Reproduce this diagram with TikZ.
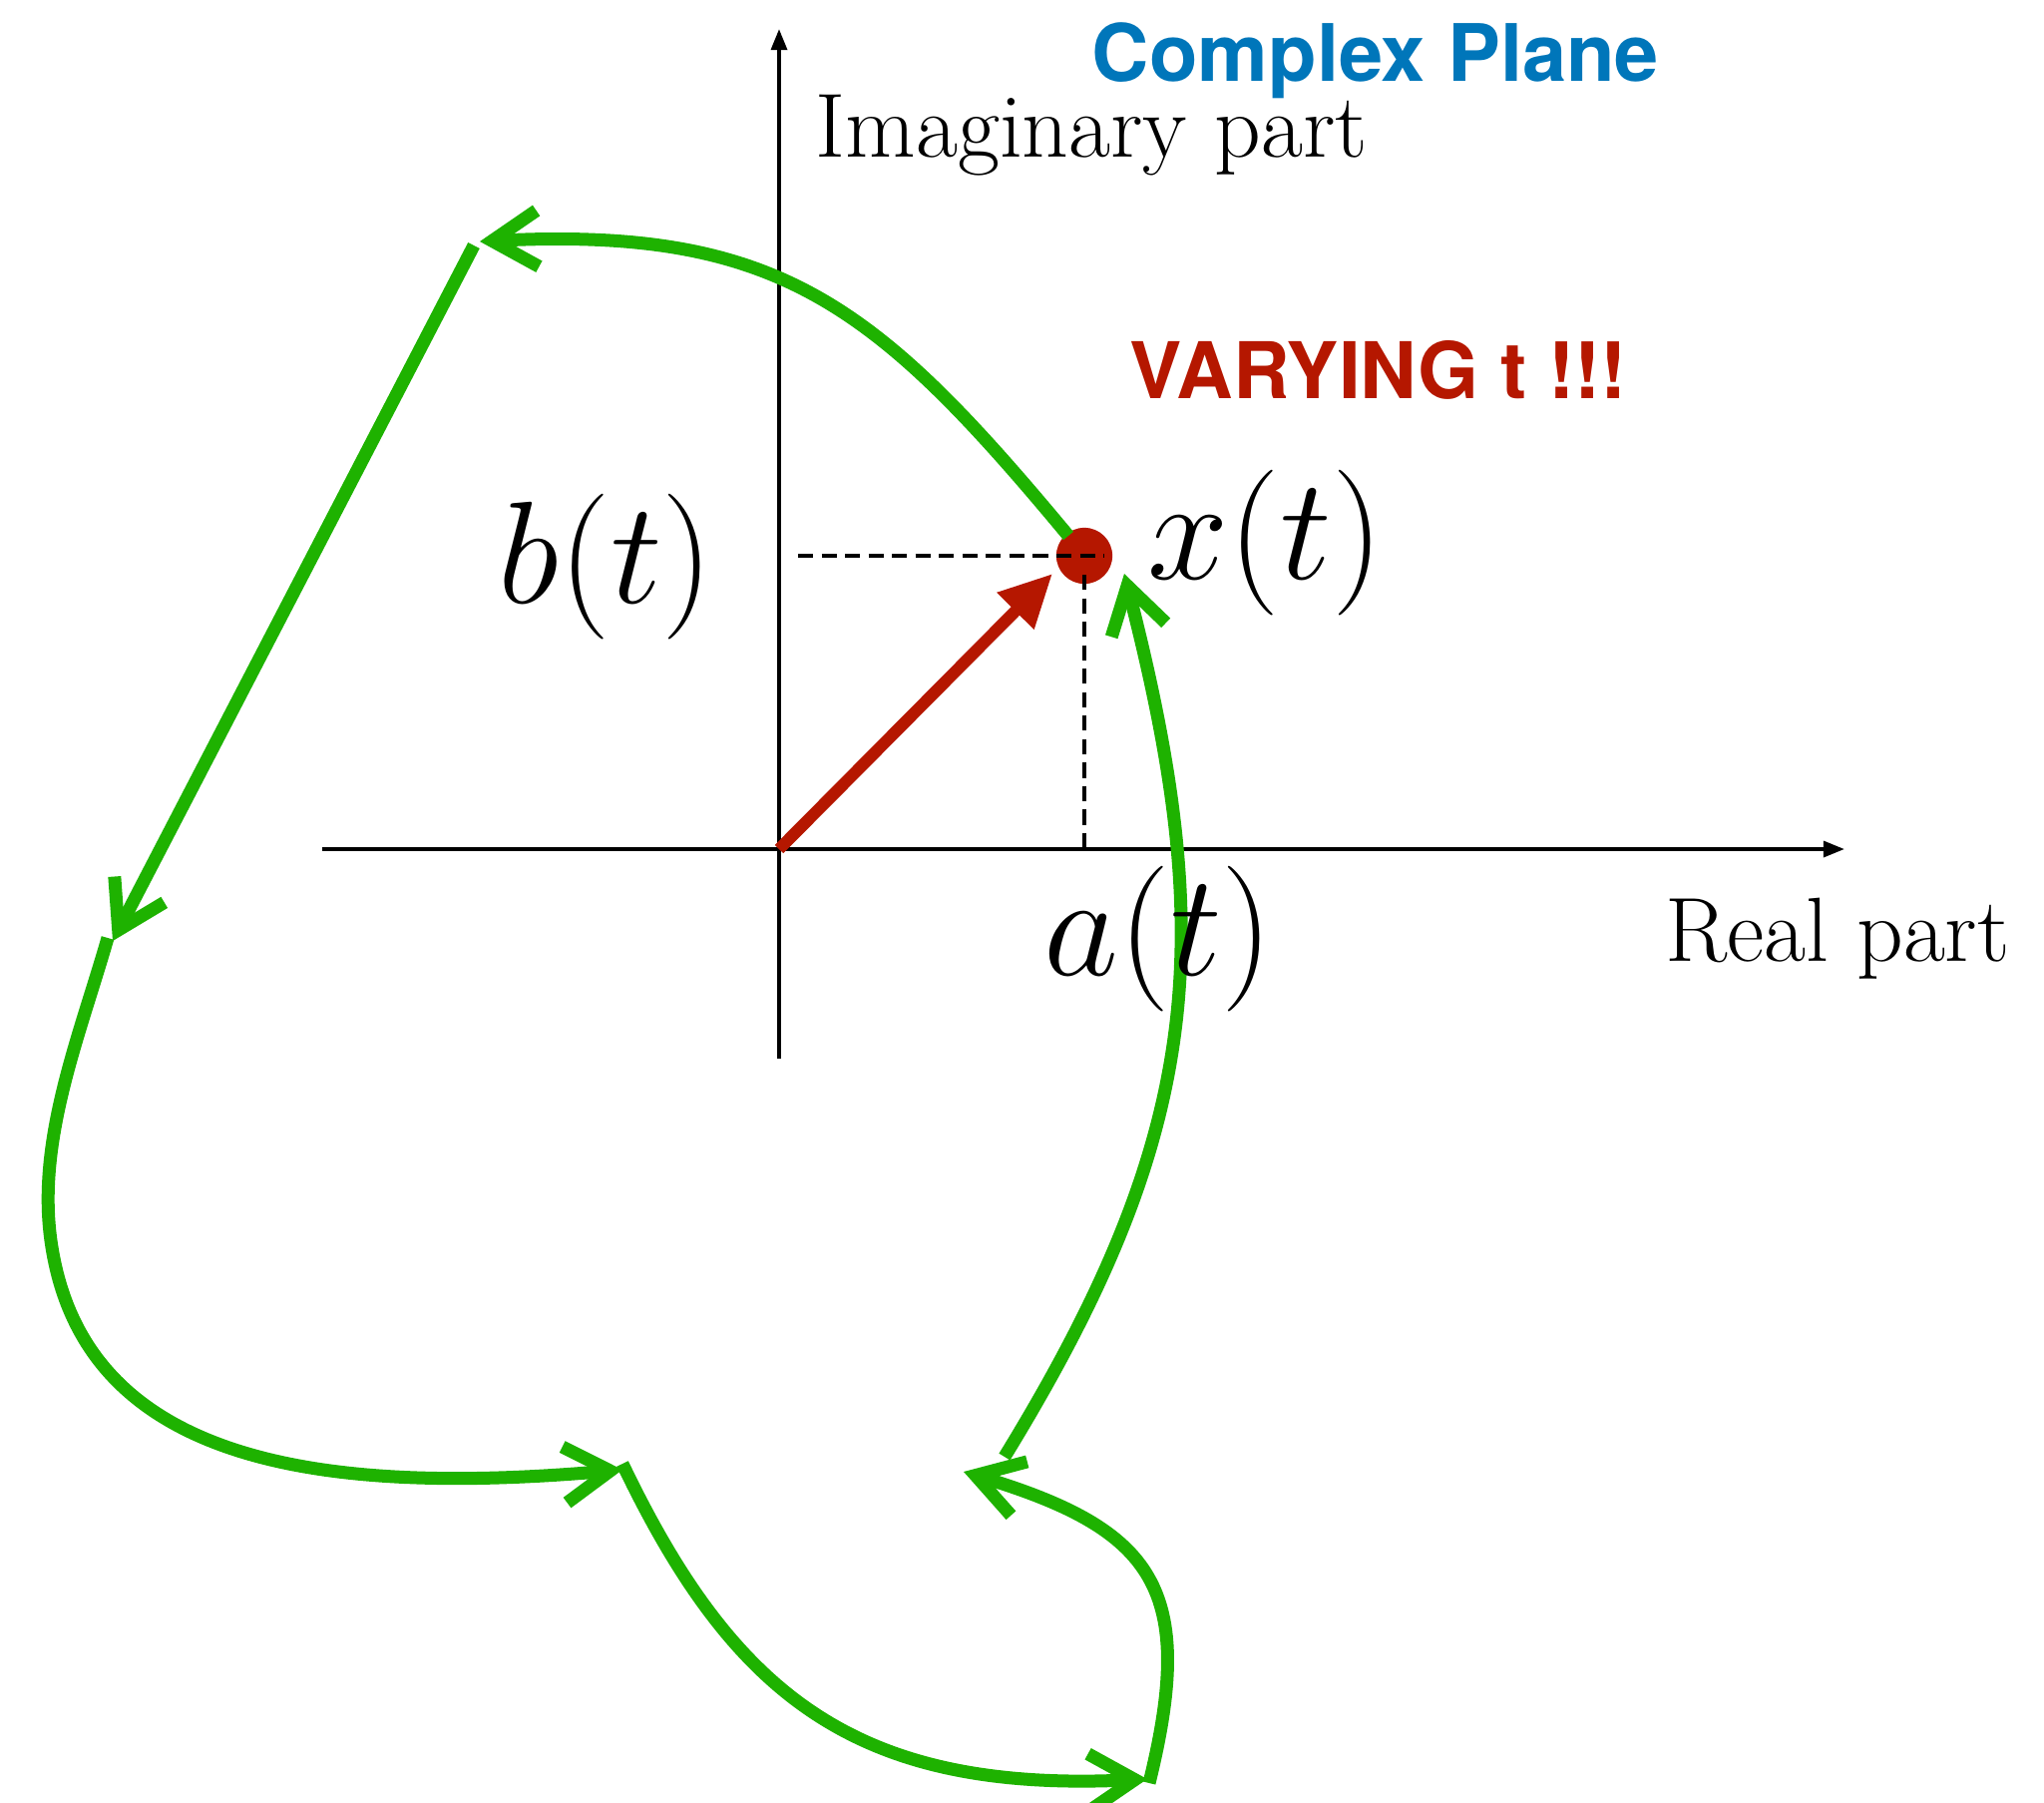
\documentclass[tikz,border=0pt]{standalone}
\usepackage{fontspec}
\newfontfamily\heros{TeX Gyre Heros}
\usetikzlibrary{arrows.meta}
\definecolor{cgreen}{RGB}{30,178,0}
\definecolor{cred}{RGB}{181,23,0}
\definecolor{cblue}{RGB}{0,118,186}
\newcommand{\bigmath}[1]{\scalebox{1.668}{\fontsize{24.88}{30}\selectfont$#1$}}
\begin{document}
\begin{tikzpicture}[x=0.1mm,y=-0.1mm,
  axis/.style={line width=1.1pt,-{Triangle[length=6pt,width=4.5pt]}},
  garrow/.style={cgreen,line width=3.7pt,-{Straight Barb[length=13pt,width=16pt]}},
  redarrow/.style={cred,line width=3.4pt,-{Triangle[length=15pt,width=14pt]}},
  dashline/.style={line width=1.3pt,dash pattern=on 4.3pt off 2.4pt},
  lbl/.style={anchor=base west,inner sep=0pt,font=\fontsize{26}{31}\selectfont},
  mlbl/.style={anchor=base west,inner sep=0pt},
  sanslbl/.style={anchor=base west,inner sep=0pt}]
\useasboundingbox (0,0) rectangle (2049,1807);
% axes
\coordinate (O) at (781,851);
\coordinate (xs) at (323,851);
\coordinate (xe) at (1849,851);
\coordinate (ys) at (781,1061);
\coordinate (ye) at (781,29);
\draw[axis] (xs) -- (xe);
\draw[axis] (ys) -- (ye);
% point
\node[circle,fill=cred,inner sep=0pt,minimum size=16pt] (X) at (1087,557) {};
\coordinate (hb) at (800,557);
\coordinate (he) at (1107,557);
\coordinate (vb) at (1087,576);
\coordinate (ve) at (1087,851);
\draw[dashline] (hb) -- (he);
\draw[dashline] (vb) -- (ve);
% red vector
\coordinate (rtip) at (1055,575);
\draw[redarrow] (O) -- (rtip);
% green loop
\coordinate (a0) at (1071,537);
\coordinate (a1) at (481,242);
\coordinate (b0) at (475,246);
\coordinate (b1) at (113,943);
\coordinate (c0) at (108,940);
\coordinate (cm) at (52,1250);
\coordinate (c1) at (624,1473);
\coordinate (d0) at (624,1467);
\coordinate (d1) at (1150,1783);
\coordinate (e0) at (1152,1787);
\coordinate (e1) at (966,1475);
\coordinate (f0) at (1007,1460);
\coordinate (f1) at (1127,575);
\draw[garrow] (a0) .. controls +(-192,-231) and +(300,-15) .. (a1);
\draw[garrow] (b0) -- (b1);
\draw[garrow] (c0) .. controls +(-29,101) and +(-17,-104) .. (cm)
                   .. controls +(35,218) and +(-300,26) .. (c1);
\draw[garrow] (d0) .. controls +(112,234) and +(-290,14) .. (d1);
\draw[garrow] (e0) .. controls +(48,-194) and +(192,58) .. (e1);
\draw[garrow] (f0) .. controls +(198,-323) and +(95,369) .. (f1);
% labels
\node[sanslbl,font=\heros\bfseries\fontsize{22.6}{27}\selectfont,text=cblue] (title) at (1094,81) {Complex Plane};
\node[sanslbl,font=\heros\bfseries\fontsize{22.3}{26}\selectfont,text=cred] (vary) at (1132,399) {VARYING t !!!};
\node[lbl] (im) at (817,157) {Imaginary part};
\node[lbl] (re) at (1669,963) {Real part};
\node[mlbl] (bt) at (499,604) {\bigmath{b(t)}};
\node[mlbl] (xt) at (1150,580) {\bigmath{x(t)}};
\node[mlbl] (at) at (1046,977) {\bigmath{a(t)}};
\end{tikzpicture}
\end{document}
